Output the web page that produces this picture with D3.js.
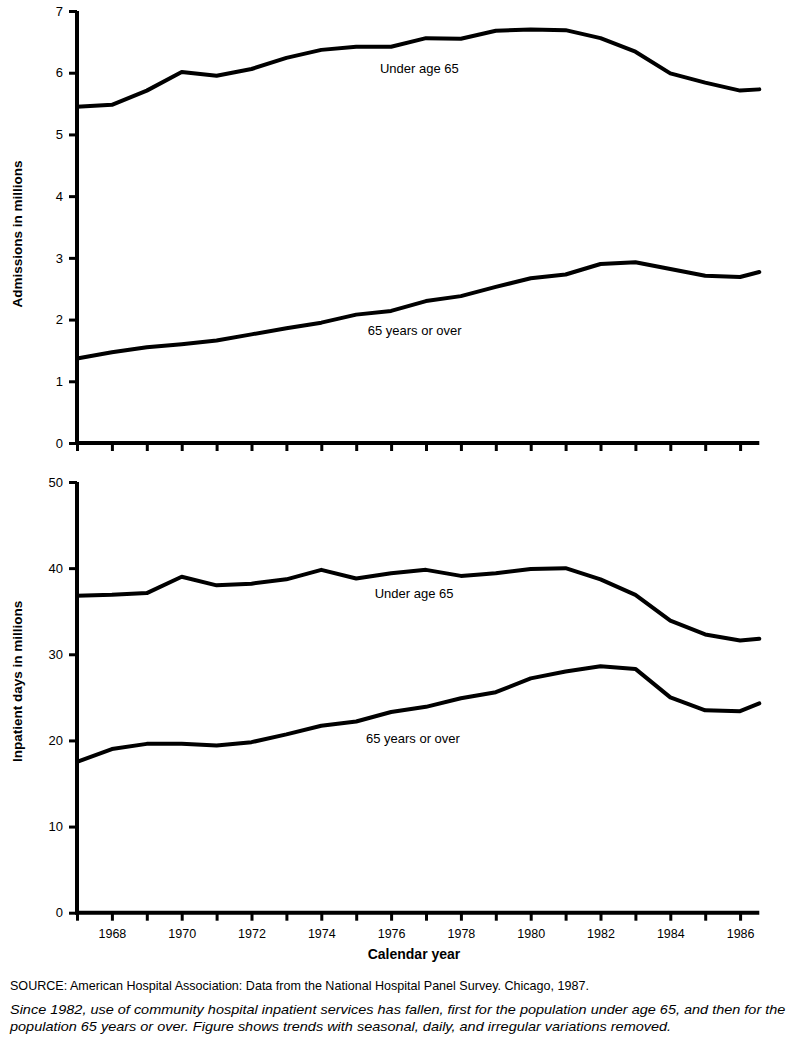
<!DOCTYPE html>
<html>
<head>
<meta charset="utf-8">
<script src="https://cdn.jsdelivr.net/npm/d3@7"></script>
<style>
  html, body { margin: 0; padding: 0; background: #fff; }
  svg { display: block; font-family: "Liberation Sans", Arial, Helvetica, sans-serif; }
</style>
</head>
<body>
<svg id="chart" width="789" height="1039"></svg>
<script>
// ---------- DATA ----------
const years = [1967,1968,1969,1970,1971,1972,1973,1974,1975,1976,1977,1978,1979,1980,1981,1982,1983,1984,1985,1986,1986.55];
const tickYears = [1967,1968,1969,1970,1971,1972,1973,1974,1975,1976,1977,1978,1979,1980,1981,1982,1983,1984,1985,1986];
const labelYears = [1968,1970,1972,1974,1976,1978,1980,1982,1984,1986];

const admissionsUnder65 = [5.45,5.48,5.71,6.01,5.95,6.06,6.24,6.37,6.42,6.42,6.56,6.55,6.68,6.70,6.69,6.56,6.34,5.99,5.84,5.71,5.73];
const admissions65Plus  = [1.37,1.47,1.55,1.60,1.66,1.76,1.86,1.95,2.08,2.14,2.30,2.38,2.53,2.67,2.73,2.90,2.93,2.82,2.71,2.69,2.77];

const daysUnder65 = [36.8,36.9,37.1,39.0,38.0,38.2,38.7,39.8,38.8,39.4,39.8,39.1,39.4,39.9,40.0,38.7,36.9,33.9,32.3,31.6,31.8];
const days65Plus  = [17.5,19.0,19.6,19.6,19.4,19.8,20.7,21.7,22.2,23.3,23.9,24.9,25.6,27.2,28.0,28.6,28.3,25.0,23.5,23.4,24.3];

const admissionsTicks = [0,1,2,3,4,5,6,7];
const daysTicks = [0,10,20,30,40,50];

const seriesLabels = ["Under age 65", "65 years or over"];
const topTitle = "Admissions in millions";
const bottomTitle = "Inpatient days in millions";
const xTitle = "Calendar year";
const sourceText = "SOURCE: American Hospital Association: Data from the National Hospital Panel Survey. Chicago, 1987.";
const noteLines = [
  "Since 1982, use of community hospital inpatient services has fallen, first for the population under age 65, and then for the",
  "population 65 years or over. Figure shows trends with seasonal, daily, and irregular variations removed."
];

// ---------- LAYOUT ----------
const svg = d3.select("#chart");
const x = d3.scaleLinear().domain([1967, 1986.55]).range([77, 759.3]);

function panel(opts) {
  const y = d3.scaleLinear().domain([0, opts.max]).range([opts.bottom, opts.top]);
  const g = svg.append("g");

  // y axis ticks + labels
  const ya = d3.axisLeft(y).tickValues(opts.ticks).tickFormat(d3.format("d"))
    .tickSize(8).tickPadding(6).tickSizeOuter(0);
  const yg = g.append("g").attr("transform", `translate(${x.range()[0]},0)`).call(ya);
  yg.select(".domain").remove();
  yg.selectAll(".tick line").attr("stroke", "#000").attr("stroke-width", 3);
  yg.selectAll(".tick text").attr("font-size", 13).attr("fill", "#000");

  // x axis ticks
  const xa = d3.axisBottom(x).tickValues(tickYears).tickSize(8).tickPadding(8).tickSizeOuter(0)
    .tickFormat(d => opts.showLabels && labelYears.includes(d) ? String(d) : "");
  const xg = g.append("g").attr("transform", `translate(0,${opts.bottom})`).call(xa);
  xg.select(".domain").remove();
  xg.selectAll(".tick line").attr("stroke", "#000").attr("stroke-width", 3);
  xg.selectAll(".tick text").attr("font-size", 12.5).attr("fill", "#000");

  // axis lines (L shape)
  g.append("path")
    .attr("d", `M${x.range()[0]},${y.range()[1]}V${y.range()[0]}H${x.range()[1]}`)
    .attr("fill", "none").attr("stroke", "#000").attr("stroke-width", 4)
    .attr("stroke-linecap", "butt").attr("stroke-linejoin", "miter");

  // lines
  const line = d3.line().x((d, i) => x(years[i])).y(d => y(d));
  opts.series.forEach(s => {
    g.append("path").datum(s)
      .attr("d", line)
      .attr("fill", "none").attr("stroke", "#000").attr("stroke-width", 4)
      .attr("stroke-linejoin", "round").attr("stroke-linecap", "round");
  });

  // series labels
  opts.labels.forEach(l => {
    g.append("text").attr("x", x(l.year)).attr("y", y(l.value))
      .attr("font-size", 13).attr("fill", "#000").text(l.text);
  });

  // y title
  const cy = (y.range()[0] + y.range()[1]) / 2 + opts.titleShift;
  g.append("text").attr("transform", `translate(${opts.titleX},${cy}) rotate(-90)`)
    .attr("text-anchor", "middle").attr("font-size", 13.5).attr("font-weight", "bold")
    .attr("fill", "#000").text(opts.title);
}

panel({
  max: 7, top: 11, bottom: 443, ticks: admissionsTicks, showLabels: false,
  series: [admissionsUnder65, admissions65Plus],
  labels: [
    {text: seriesLabels[0], year: 1975.68, value: 6.0},
    {text: seriesLabels[1], year: 1975.33, value: 1.75}
  ],
  title: topTitle, titleX: 21.5, titleShift: 7
});

panel({
  max: 50, top: 482, bottom: 912.7, ticks: daysTicks, showLabels: true,
  series: [daysUnder65, days65Plus],
  labels: [
    {text: seriesLabels[0], year: 1975.53, value: 36.55},
    {text: seriesLabels[1], year: 1975.28, value: 19.7}
  ],
  title: bottomTitle, titleX: 21.5, titleShift: -16
});

// x title
svg.append("text").attr("x", 414).attr("y", 959).attr("text-anchor", "middle")
  .attr("font-size", 14).attr("font-weight", "bold").attr("fill", "#000").text(xTitle);

// footnotes (condensed look via horizontal scaling)
function scaledText(str, xPos, yPos, targetWidth, italic, scaleOverride) {
  const g = svg.append("g").attr("transform", `translate(${xPos},${yPos})`);
  const t = g.append("text").attr("font-size", 12.5).attr("fill", "#000")
    .attr("font-style", italic ? "italic" : "normal").text(str);
  const w = t.node().getComputedTextLength();
  const s = scaleOverride || targetWidth / w;
  g.attr("transform", `translate(${xPos},${yPos}) scale(${s},1)`);
  return s;
}
scaledText(sourceText, 10, 990, 580, false);
const sNote = scaledText(noteLines[0], 10, 1014, 776, true);
scaledText(noteLines[1], 10, 1031, null, true, sNote);
</script>
</body>
</html>
